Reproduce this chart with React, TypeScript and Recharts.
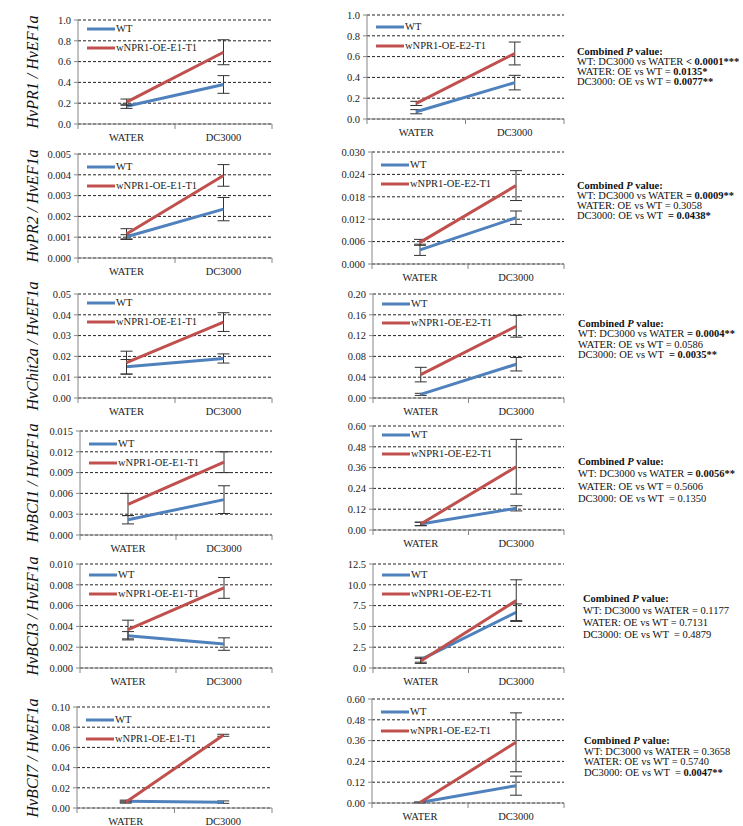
import React from 'react';
import { ComposedChart, Line, XAxis, YAxis, CartesianGrid, ErrorBar, Legend } from 'recharts';

const categories = ['WATER', 'DC3000'];
const wtName = 'WT';
const e1Name = 'wNPR1-OE-E1-T1';
const e2Name = 'wNPR1-OE-E2-T1';

// HvPR1
const pr1E1Wt = [0.17, 0.38];
const pr1E1WtErr = [0.02, 0.085];
const pr1E1Oe = [0.21, 0.69];
const pr1E1OeErr = [0.03, 0.12];
const pr1E2Wt = [0.07, 0.35];
const pr1E2WtErr = [0.02, 0.07];
const pr1E2Oe = [0.15, 0.63];
const pr1E2OeErr = [0.02, 0.11];

// HvPR2
const pr2E1Wt = [0.00102, 0.00235];
const pr2E1WtErr = [0.0001, 0.00056];
const pr2E1Oe = [0.00115, 0.00397];
const pr2E1OeErr = [0.00026, 0.00052];
const pr2E2Wt = [0.0038, 0.0124];
const pr2E2WtErr = [0.0015, 0.0018];
const pr2E2Oe = [0.0058, 0.021];
const pr2E2OeErr = [0.0008, 0.004];

// HvChit2a
const chE1Wt = [0.015, 0.019];
const chE1WtErr = [0.0035, 0.0022];
const chE1Oe = [0.017, 0.0365];
const chE1OeErr = [0.0055, 0.0045];
const chE2Wt = [0.007, 0.065];
const chE2WtErr = [0.002, 0.013];
const chE2Oe = [0.045, 0.138];
const chE2OeErr = [0.014, 0.021];

// HvBCI1
const b1E1Wt = [0.0022, 0.0051];
const b1E1WtErr = [0.0006, 0.002];
const b1E1Oe = [0.0044, 0.0105];
const b1E1OeErr = [0.0016, 0.0015];
const b1E2Wt = [0.035, 0.125];
const b1E2WtErr = [0.01, 0.015];
const b1E2Oe = [0.035, 0.365];
const b1E2OeErr = [0.01, 0.158];

// HvBCI3
const b3E1Wt = [0.0031, 0.0023];
const b3E1WtErr = [0.0004, 0.0006];
const b3E1Oe = [0.0037, 0.0077];
const b3E1OeErr = [0.0009, 0.001];
const b3E2Wt = [1.0, 6.7];
const b3E2WtErr = [0.3, 1.0];
const b3E2Oe = [0.85, 8.1];
const b3E2OeErr = [0.3, 2.5];

// HvBCI7
const b7E1Wt = [0.0068, 0.0058];
const b7E1WtErr = [0.001, 0.0012];
const b7E1Oe = [0.0058, 0.072];
const b7E1OeErr = [0.001, 0.001];
const b7E2Wt = [0.003, 0.1];
const b7E2WtErr = [0.002, 0.055];
const b7E2Oe = [0.003, 0.35];
const b7E2OeErr = [0.002, 0.17];

// y-axis ticks
const ticksPr1 = [0, 0.2, 0.4, 0.6, 0.8, 1.0];
const ticksPr2E1 = [0, 0.001, 0.002, 0.003, 0.004, 0.005];
const ticksPr2E2 = [0, 0.006, 0.012, 0.018, 0.024, 0.03];
const ticksChE1 = [0, 0.01, 0.02, 0.03, 0.04, 0.05];
const ticksChE2 = [0, 0.04, 0.08, 0.12, 0.16, 0.2];
const ticksB1E1 = [0, 0.003, 0.006, 0.009, 0.012, 0.015];
const ticksB1E2 = [0, 0.12, 0.24, 0.36, 0.48, 0.6];
const ticksB3E1 = [0, 0.002, 0.004, 0.006, 0.008, 0.01];
const ticksB3E2 = [0, 2.5, 5.0, 7.5, 10.0, 12.5];
const ticksB7E1 = [0, 0.02, 0.04, 0.06, 0.08, 0.1];
const ticksB7E2 = [0, 0.12, 0.24, 0.36, 0.48, 0.6];

const yLabels = ['HvPR1 / HvEF1a', 'HvPR2 / HvEF1a', 'HvChit2a / HvEF1a', 'HvBCI1 / HvEF1a', 'HvBCI3 / HvEF1a', 'HvBCI7 / HvEF1a'];

// [plain, bold]
const notes1 = [['WT: DC3000 vs WATER ', '< 0.0001***'], ['WATER: OE vs WT = ', '0.0135*'], ['DC3000: OE vs WT = ', '0.0077**']];
const notes2 = [['WT: DC3000 vs WATER ', '= 0.0009**'], ['WATER: OE vs WT = 0.3058', ''], ['DC3000: OE vs WT  ', '= 0.0438*']];
const notes3 = [['WT: DC3000 vs WATER ', '= 0.0004**'], ['WATER: OE vs WT = 0.0586', ''], ['DC3000: OE vs WT  ', '= 0.0035**']];
const notes4 = [['WT: DC3000 vs WATER ', '= 0.0056**'], ['WATER: OE vs WT = 0.5606', ''], ['DC3000: OE vs WT  = 0.1350', '']];
const notes5 = [['WT: DC3000 vs WATER = 0.1177', ''], ['WATER: OE vs WT = 0.7131', ''], ['DC3000: OE vs WT  = 0.4879', '']];
const notes6 = [['WT: DC3000 vs WATER = 0.3658', ''], ['WATER: OE vs WT = 0.5740', ''], ['DC3000: OE vs WT  = ', '0.0047**']];

const BLUE = '#4F81BD';
const RED = '#C0504D';
const AXIS = '#868686';
const FONT = '"Liberation Serif", "Times New Roman", serif';

const build = (wt, wtErr, oe, oeErr) =>
  categories.map((c, i) => ({ cond: c, wt: wt[i], wtErr: wtErr[i], oe: oe[i], oeErr: oeErr[i] }));

const panels = [
  { data: build(pr1E1Wt, pr1E1WtErr, pr1E1Oe, pr1E1OeErr), ticks: ticksPr1, dec: 1, name: e1Name, left: 0, axisX: 78, right: 272, top: 20, bottom: 124, legY: 9 },
  { data: build(pr1E2Wt, pr1E2WtErr, pr1E2Oe, pr1E2OeErr), ticks: ticksPr1, dec: 1, name: e2Name, left: 290, axisX: 367, right: 564, top: 15, bottom: 119, legY: 12 },
  { data: build(pr2E1Wt, pr2E1WtErr, pr2E1Oe, pr2E1OeErr), ticks: ticksPr2E1, dec: 3, name: e1Name, left: 0, axisX: 78, right: 272, top: 154, bottom: 258, legY: 13 },
  { data: build(pr2E2Wt, pr2E2WtErr, pr2E2Oe, pr2E2OeErr), ticks: ticksPr2E2, dec: 3, name: e2Name, left: 290, axisX: 372, right: 564, top: 152, bottom: 264, legY: 13 },
  { data: build(chE1Wt, chE1WtErr, chE1Oe, chE1OeErr), ticks: ticksChE1, dec: 2, name: e1Name, left: 0, axisX: 78, right: 272, top: 294, bottom: 398, legY: 9 },
  { data: build(chE2Wt, chE2WtErr, chE2Oe, chE2OeErr), ticks: ticksChE2, dec: 2, name: e2Name, left: 290, axisX: 373, right: 564, top: 294, bottom: 398, legY: 10 },
  { data: build(b1E1Wt, b1E1WtErr, b1E1Oe, b1E1OeErr), ticks: ticksB1E1, dec: 3, name: e1Name, left: 0, axisX: 80, right: 272, top: 431, bottom: 535, legY: 13 },
  { data: build(b1E2Wt, b1E2WtErr, b1E2Oe, b1E2OeErr), ticks: ticksB1E2, dec: 2, name: e2Name, left: 290, axisX: 373, right: 564, top: 426, bottom: 530, legY: 9 },
  { data: build(b3E1Wt, b3E1WtErr, b3E1Oe, b3E1OeErr), ticks: ticksB3E1, dec: 3, name: e1Name, left: 0, axisX: 80, right: 272, top: 564, bottom: 668, legY: 11 },
  { data: build(b3E2Wt, b3E2WtErr, b3E2Oe, b3E2OeErr), ticks: ticksB3E2, dec: 1, name: e2Name, left: 290, axisX: 373, right: 564, top: 564, bottom: 668, legY: 11 },
  { data: build(b7E1Wt, b7E1WtErr, b7E1Oe, b7E1OeErr), ticks: ticksB7E1, dec: 2, name: e1Name, left: 0, axisX: 77, right: 272, top: 707, bottom: 808, legY: 13 },
  { data: build(b7E2Wt, b7E2WtErr, b7E2Oe, b7E2OeErr), ticks: ticksB7E2, dec: 2, name: e2Name, left: 290, axisX: 372, right: 564, top: 699, bottom: 803, legY: 13 },
];

const notes = [
  { lines: notes1, x: 577, y: 47, lh: 10 },
  { lines: notes2, x: 577, y: 181, lh: 10 },
  { lines: notes3, x: 578, y: 319, lh: 10.4 },
  { lines: notes4, x: 578, y: 456, lh: 12.3 },
  { lines: notes5, x: 583, y: 593, lh: 12 },
  { lines: notes6, x: 584, y: 736, lh: 10.6 },
];

function LegendBox({ name }) {
  const row = (color, label) => (
    <div style={{ display: 'flex', alignItems: 'center', height: 19 }}>
      <svg width={28} height={6}>
        <line x1={0} x2={28} y1={3} y2={3} stroke={color} strokeWidth={3} />
      </svg>
      <span style={{ fontFamily: FONT, fontSize: 10.5, color: '#222', marginLeft: 1 }}>{label}</span>
    </div>
  );
  return (
    <div style={{ whiteSpace: 'nowrap' }}>
      {row(BLUE, wtName)}
      {row(RED, name)}
    </div>
  );
}

function Panel({ p }) {
  const mt = 6;
  const xh = 24;
  const plotH = p.bottom - p.top;
  const height = mt + plotH + xh;
  const width = p.right - p.left + 4;
  const bw = (p.right - p.axisX) / 2;
  const max = p.ticks[p.ticks.length - 1];

  const xTick = (props) => {
    const { x, y, payload } = props;
    const idx = categories.indexOf(payload.value);
    return (
      <g>
        {idx === 0 && <line x1={x - bw / 2} x2={x - bw / 2} y1={y - 8} y2={y - 3} stroke={AXIS} />}
        <line x1={x + bw / 2} x2={x + bw / 2} y1={y - 8} y2={y - 3} stroke={AXIS} />
        <text x={x} y={y + 2} dy="0.71em" textAnchor="middle" fontFamily={FONT} fontSize={10.5} fill="#222">
          {payload.value}
        </text>
      </g>
    );
  };

  return (
    <div style={{ position: 'absolute', left: p.left, top: p.top - mt }}>
      <ComposedChart width={width} height={height} data={p.data} margin={{ top: mt, right: 4, bottom: 0, left: 0 }}>
        <CartesianGrid vertical={false} stroke="#222" strokeDasharray="3 2" />
        <XAxis
          dataKey="cond"
          height={xh}
          axisLine={{ stroke: AXIS }}
          tickLine={false}
          tick={xTick}
          interval={0}
          padding={{ left: bw / 2, right: bw / 2 }}
        />
        <YAxis
          width={p.axisX - p.left}
          domain={[0, max]}
          ticks={p.ticks}
          interval={0}
          tickFormatter={(v) => Number(v).toFixed(p.dec)}
          axisLine={{ stroke: AXIS }}
          tickLine={{ stroke: AXIS }}
          tickSize={4}
          tickMargin={3}
          tick={{ fontFamily: FONT, fontSize: 10.5, fill: '#222' }}
        />
        <Legend
          layout="vertical"
          align="center"
          verticalAlign="middle"
          wrapperStyle={{ left: p.axisX - p.left + 9, top: mt + p.legY - 10, width: 'auto' }}
          content={() => <LegendBox name={p.name} />}
        />
        <Line dataKey="wt" stroke={BLUE} strokeWidth={3} dot={false} isAnimationActive={false}>
          <ErrorBar dataKey="wtErr" direction="y" width={6} stroke="#333" strokeWidth={1} />
        </Line>
        <Line dataKey="oe" stroke={RED} strokeWidth={3} dot={false} isAnimationActive={false}>
          <ErrorBar dataKey="oeErr" direction="y" width={6} stroke="#333" strokeWidth={1} />
        </Line>
      </ComposedChart>
    </div>
  );
}

export default function App() {
  return (
    <div style={{ position: 'absolute', left: 0, top: 0, width: 743, height: 826, background: '#fff', overflow: 'hidden' }}>
      {panels.map((p, i) => (
        <Panel key={i} p={p} />
      ))}
      {yLabels.map((t, i) => {
        const p = panels[i * 2];
        const cy = (p.top + p.bottom) / 2;
        return (
          <div
            key={t}
            style={{
              position: 'absolute',
              left: 33 - 90,
              top: cy - 10,
              width: 180,
              height: 20,
              lineHeight: '20px',
              textAlign: 'center',
              transform: 'rotate(-90deg)',
              fontFamily: FONT,
              fontStyle: 'italic',
              fontSize: 16,
              color: '#111',
              whiteSpace: 'nowrap',
            }}
          >
            {t}
          </div>
        );
      })}
      {notes.map((n, i) => (
        <div
          key={i}
          style={{ position: 'absolute', left: n.x, top: n.y, fontFamily: FONT, fontSize: 10.5, lineHeight: `${n.lh}px`, color: '#111', whiteSpace: 'pre' }}
        >
          <div style={{ fontWeight: 'bold' }}>
            Combined <i>P</i> value:
          </div>
          {n.lines.map((l, j) => (
            <div key={j}>
              {l[0]}
              {l[1] && <b>{l[1]}</b>}
            </div>
          ))}
        </div>
      ))}
    </div>
  );
}
